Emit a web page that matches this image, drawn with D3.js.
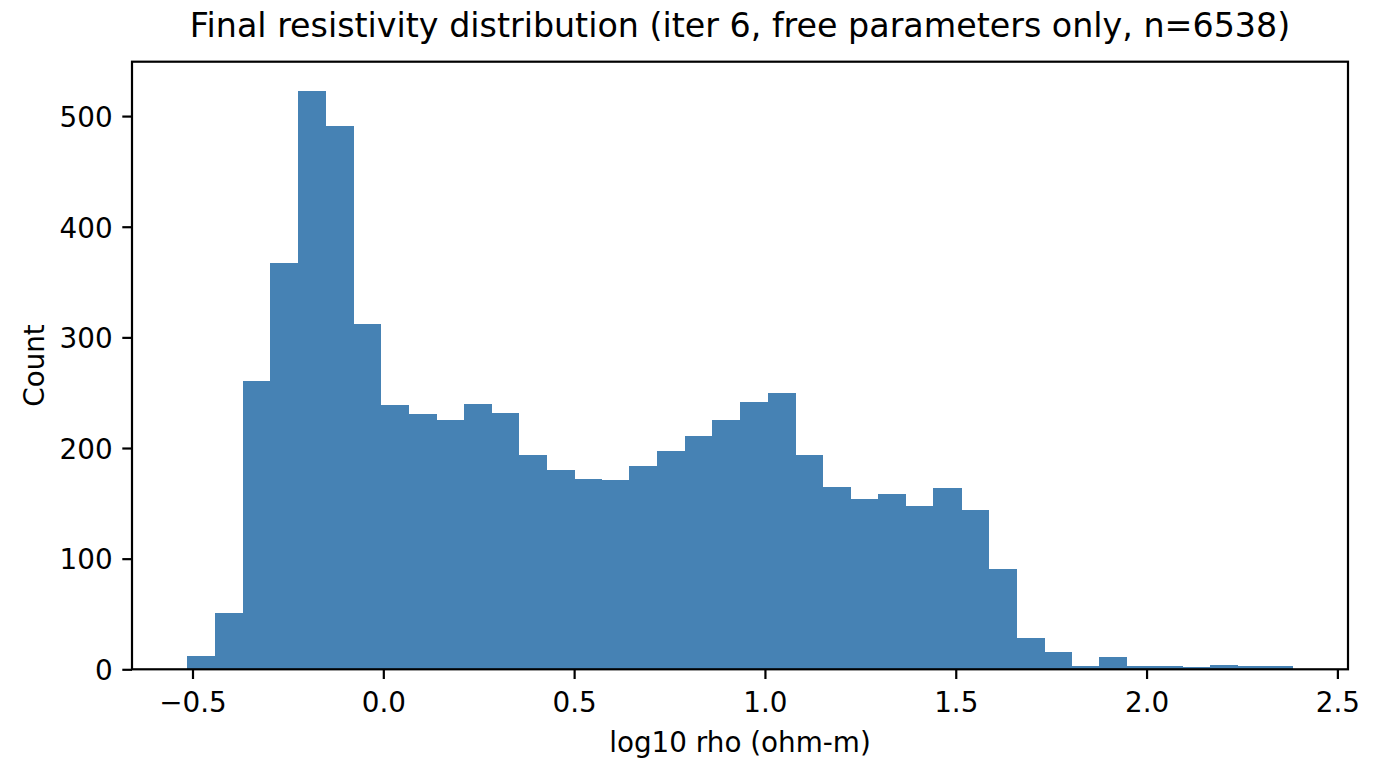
<!DOCTYPE html>
<html>
<head>
<meta charset="utf-8">
<script src="https://cdn.jsdelivr.net/npm/d3@7"></script>
<style>
  body { margin: 0; background: #fff; }
  svg text { font-family: "DejaVu Sans", sans-serif; fill: #000; }
</style>
</head>
<body>
<svg id="chart" width="1379" height="777"></svg>
<script>
// Histogram data: 40 equal bins between the min and max of log10 rho
const dataMin = -0.5137;
const dataMax = 2.383;
const counts = [
  12, 51, 261, 367, 523, 491, 312, 239, 231, 225,
  240, 232, 194, 180, 172, 171, 184, 197, 211, 225,
  242, 250, 194, 165, 154, 158, 148, 164, 144, 91,
  28, 16, 3, 11, 3, 3, 2, 4, 3, 3
];
const xTicks = [-0.5, 0.0, 0.5, 1.0, 1.5, 2.0, 2.5];
const yTicks = [0, 100, 200, 300, 400, 500];

const titleText = 'Final resistivity distribution (iter 6, free parameters only, n=6538)';
const xLabel = 'log10 rho (ohm-m)';
const yLabel = 'Count';

// Build bins from the data range
const binWidth = (dataMax - dataMin) / counts.length;
const bins = counts.map((c, i) => ({
  x0: dataMin + i * binWidth,
  x1: dataMin + (i + 1) * binWidth,
  count: c
}));

// Axes box (matplotlib style)
const box = {left: 132, right: 1348, top: 61.7, bottom: 669.3};
const fontSize = 27.8;
const tickLen = 9.7;

const svg = d3.select('#chart');

// 5% margins on x like matplotlib, 5% headroom on y
const span = dataMax - dataMin;
const x = d3.scaleLinear()
  .domain([dataMin - 0.05 * span, dataMax + 0.05 * span])
  .range([box.left, box.right]);
const y = d3.scaleLinear()
  .domain([0, d3.max(counts) * 1.05])
  .range([box.bottom, box.top]);

// Bars (crisp edges so neighbours don't show seams)
svg.append('g')
  .attr('shape-rendering', 'crispEdges')
  .selectAll('rect')
  .data(bins)
  .join('rect')
  .attr('x', d => x(d.x0))
  .attr('y', d => y(d.count))
  .attr('width', d => x(d.x1) - x(d.x0) + 0.5)
  .attr('height', d => y(0) - y(d.count))
  .attr('fill', 'steelblue');

// X axis
const xAxis = svg.append('g')
  .attr('transform', 'translate(0,' + box.bottom + ')')
  .call(d3.axisBottom(x)
    .tickValues(xTicks)
    .tickSize(tickLen)
    .tickSizeOuter(0)
    .tickFormat(d3.format('.1f')));
xAxis.select('.domain').remove();
xAxis.selectAll('line').attr('stroke', '#000').attr('stroke-width', 2.2);
xAxis.selectAll('text')
  .attr('y', 42.7)
  .attr('dy', null)
  .style('font-size', fontSize + 'px');

// Y axis
const yAxis = svg.append('g')
  .attr('transform', 'translate(' + box.left + ',0)')
  .call(d3.axisLeft(y)
    .tickValues(yTicks)
    .tickSize(tickLen)
    .tickPadding(9.7)
    .tickSizeOuter(0)
    .tickFormat(d3.format('d')));
yAxis.select('.domain').remove();
yAxis.selectAll('line').attr('stroke', '#000').attr('stroke-width', 2.2);
yAxis.selectAll('text')
  .attr('dy', '0.37em')
  .style('font-size', fontSize + 'px');

// Frame (spines)
svg.append('rect')
  .attr('x', box.left)
  .attr('y', box.top)
  .attr('width', box.right - box.left)
  .attr('height', box.bottom - box.top)
  .attr('fill', 'none')
  .attr('stroke', '#000')
  .attr('stroke-width', 2.2);

// Title and axis labels
const midX = (box.left + box.right) / 2;
svg.append('text')
  .attr('x', midX)
  .attr('y', 37)
  .attr('text-anchor', 'middle')
  .style('font-size', '33.3px')
  .text(titleText);

svg.append('text')
  .attr('x', midX)
  .attr('y', 752)
  .attr('text-anchor', 'middle')
  .style('font-size', fontSize + 'px')
  .text(xLabel);

svg.append('text')
  .attr('transform', 'translate(43.5,' + (box.top + box.bottom) / 2 + ') rotate(-90)')
  .attr('text-anchor', 'middle')
  .style('font-size', fontSize + 'px')
  .text(yLabel);
</script>
</body>
</html>
